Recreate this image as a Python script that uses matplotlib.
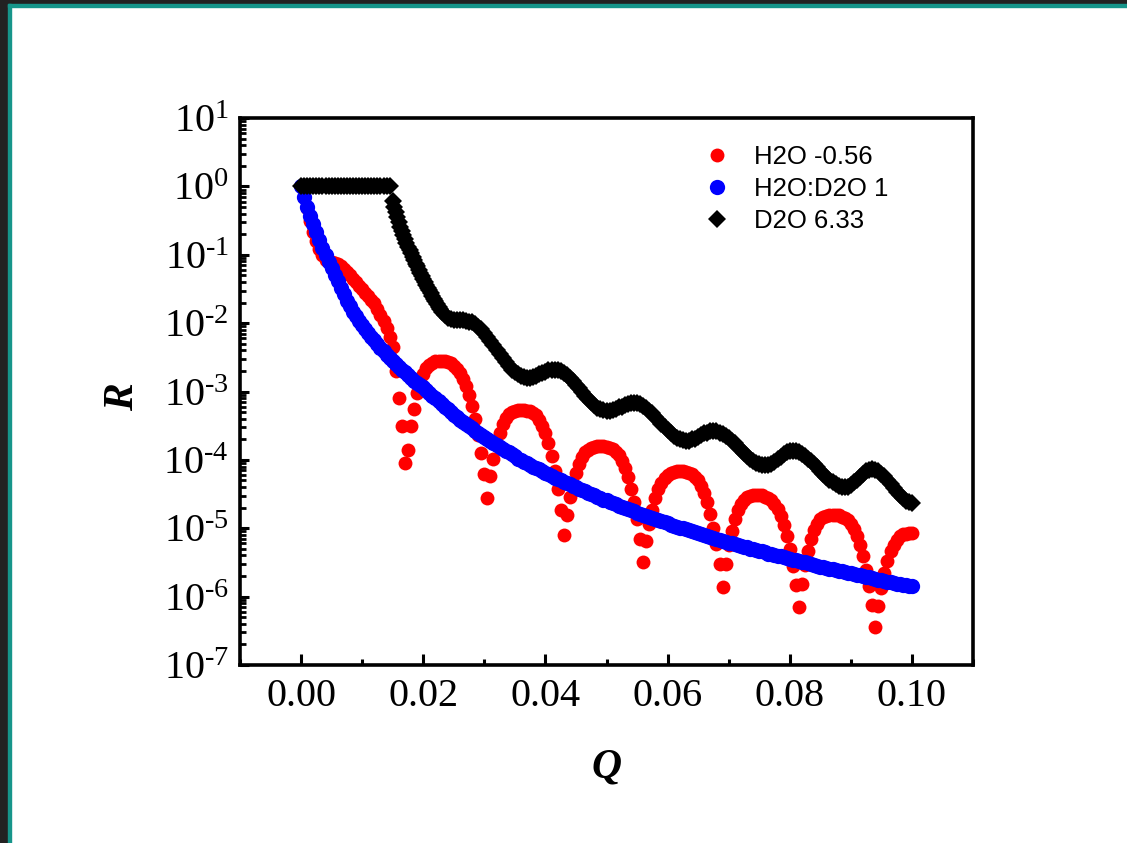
import numpy as np
import matplotlib
matplotlib.use("Agg")
import matplotlib.pyplot as plt
from matplotlib.patches import Rectangle
from matplotlib.ticker import MultipleLocator, LogLocator, NullFormatter, FixedLocator, FixedFormatter

plt.rcParams['font.family'] = ['Liberation Serif', 'DejaVu Serif']
plt.rcParams['mathtext.fontset'] = 'custom'
plt.rcParams['mathtext.rm'] = 'Liberation Serif'
plt.rcParams['mathtext.it'] = 'Liberation Serif:italic'
plt.rcParams['mathtext.bf'] = 'Liberation Serif:bold'

# ---------------- data (log10 R) ----------------
labels = ["H2O -0.56", "H2O:D2O 1", "D2O 6.33"]
colors = ["#ff0000", "#0000ff", "#000000"]

q_grid = np.linspace(0.0, 0.1, 201)     # Q grid of the red and blue series
# black series: same grid, but sampled twice as finely on its steep drop
q_d2o = np.concatenate([np.linspace(0.0, 0.0145, 30),
                        np.linspace(0.015, 0.023, 33),
                        np.linspace(0.0235, 0.1, 154)])

log_r_h2o = [
    0.00, -0.15, -0.32, -0.50, -0.66, -0.80, -0.92, -1.01, -1.07, -1.10,
    -1.11, -1.12, -1.14, -1.17, -1.21, -1.25, -1.30, -1.35, -1.40, -1.45,
    -1.50, -1.56, -1.61, -1.66, -1.71, -1.79, -1.88, -1.97, -2.07, -2.20,
    -2.35, -2.70, -3.10, -3.50, -4.05, -3.85, -3.50, -3.25, -3.02, -2.86,
    -2.74, -2.66, -2.61, -2.58, -2.56, -2.56, -2.56, -2.56, -2.57, -2.59,
    -2.62, -2.67, -2.73, -2.81, -2.92, -3.05, -3.21, -3.40, -3.63, -3.90,
    -4.21, -4.56, -4.24, -3.98, -3.77, -3.60, -3.48, -3.39, -3.33, -3.30,
    -3.28, -3.27, -3.27, -3.27, -3.28, -3.29, -3.31, -3.35, -3.41, -3.50,
    -3.61, -3.76, -3.94, -4.16, -4.42, -4.74, -5.10, -4.80, -4.55, -4.35,
    -4.19, -4.06, -3.96, -3.89, -3.85, -3.82, -3.81, -3.80, -3.80, -3.80,
    -3.81, -3.82, -3.84, -3.88, -3.93, -4.01, -4.12, -4.25, -4.42, -4.62,
    -4.87, -5.16, -5.50, -5.19, -4.94, -4.73, -4.56, -4.43, -4.34, -4.27,
    -4.22, -4.19, -4.18, -4.17, -4.17, -4.17, -4.18, -4.19, -4.21, -4.25,
    -4.30, -4.38, -4.49, -4.62, -4.79, -4.99, -5.23, -5.52, -5.86, -5.53,
    -5.25, -5.04, -4.87, -4.74, -4.65, -4.58, -4.55, -4.53, -4.52, -4.52,
    -4.52, -4.52, -4.54, -4.56, -4.59, -4.65, -4.72, -4.82, -4.95, -5.11,
    -5.31, -5.55, -5.83, -6.15, -5.82, -5.54, -5.33, -5.16, -5.03, -4.94,
    -4.87, -4.84, -4.82, -4.81, -4.81, -4.81, -4.81, -4.83, -4.85, -4.88,
    -4.94, -5.01, -5.11, -5.25, -5.41, -5.61, -5.84, -6.12, -6.45, -6.13,
    -5.87, -5.65, -5.48, -5.34, -5.24, -5.17, -5.12, -5.09, -5.08, -5.07,
    -5.07,
]

log_r_match = [
    0.00, -0.16, -0.30, -0.43, -0.55, -0.67, -0.79, -0.90, -1.00, -1.10,
    -1.20, -1.30, -1.39, -1.49, -1.58, -1.67, -1.75, -1.83, -1.90, -1.97,
    -2.03, -2.09, -2.15, -2.20, -2.25, -2.31, -2.36, -2.41, -2.46, -2.51,
    -2.55, -2.60, -2.64, -2.68, -2.72, -2.76, -2.80, -2.84, -2.87, -2.91,
    -2.94, -2.98, -3.02, -3.06, -3.10, -3.14, -3.18, -3.22, -3.26, -3.30,
    -3.34, -3.38, -3.41, -3.45, -3.48, -3.51, -3.54, -3.58, -3.61, -3.64,
    -3.67, -3.70, -3.73, -3.76, -3.78, -3.81, -3.84, -3.87, -3.89, -3.92,
    -3.95, -3.98, -4.00, -4.03, -4.05, -4.08, -4.10, -4.12, -4.14, -4.17,
    -4.19, -4.21, -4.23, -4.26, -4.28, -4.30, -4.32, -4.34, -4.36, -4.38,
    -4.40, -4.42, -4.44, -4.46, -4.48, -4.50, -4.52, -4.54, -4.56, -4.58,
    -4.59, -4.61, -4.63, -4.65, -4.67, -4.69, -4.70, -4.72, -4.73, -4.75,
    -4.77, -4.79, -4.80, -4.82, -4.83, -4.85, -4.86, -4.88, -4.89, -4.91,
    -4.93, -4.95, -4.96, -4.98, -4.99, -5.00, -5.01, -5.03, -5.04, -5.06,
    -5.07, -5.09, -5.10, -5.12, -5.13, -5.14, -5.15, -5.17, -5.18, -5.20,
    -5.21, -5.22, -5.23, -5.25, -5.26, -5.27, -5.28, -5.30, -5.31, -5.32,
    -5.33, -5.34, -5.35, -5.37, -5.38, -5.39, -5.40, -5.41, -5.42, -5.44,
    -5.45, -5.46, -5.47, -5.48, -5.49, -5.50, -5.51, -5.53, -5.54, -5.55,
    -5.56, -5.57, -5.58, -5.59, -5.60, -5.61, -5.62, -5.63, -5.64, -5.65,
    -5.66, -5.67, -5.68, -5.69, -5.70, -5.71, -5.72, -5.73, -5.74, -5.75,
    -5.76, -5.77, -5.78, -5.79, -5.80, -5.81, -5.82, -5.83, -5.83, -5.84,
    -5.85,
]

log_r_d2o = [
    # Q = 0 ... 0.0145 (total reflection plateau)
    0.00, 0.00, 0.00, 0.00, 0.00, 0.00, 0.00, 0.00, 0.00, 0.00,
    0.00, 0.00, 0.00, 0.00, 0.00, 0.00, 0.00, 0.00, 0.00, 0.00,
    0.00, 0.00, 0.00, 0.00, 0.00, 0.00, 0.00, 0.00, 0.00, 0.00,
    # Q = 0.015 ... 0.023 (steep drop, finer sampling)
    -0.22, -0.30, -0.38, -0.45, -0.52, -0.59, -0.65, -0.71, -0.77, -0.83,
    -0.88, -0.93, -0.98, -1.03, -1.08, -1.13, -1.17, -1.22, -1.26, -1.31,
    -1.35, -1.40, -1.44, -1.48, -1.52, -1.56, -1.60, -1.64, -1.68, -1.72,
    -1.76, -1.80, -1.83,
    # Q = 0.0235 ... 0.1
    -1.88, -1.92, -1.94,
    -1.95, -1.95, -1.95, -1.96, -1.97, -1.98, -1.99, -2.02, -2.05, -2.09,
    -2.14, -2.20, -2.26, -2.32, -2.39, -2.45, -2.51, -2.57, -2.63, -2.68,
    -2.72, -2.75, -2.78, -2.79, -2.80, -2.80, -2.79, -2.77, -2.75, -2.73,
    -2.71, -2.69, -2.68, -2.68, -2.69, -2.70, -2.73, -2.76, -2.80, -2.85,
    -2.90, -2.95, -3.01, -3.06, -3.11, -3.16, -3.20, -3.24, -3.26, -3.27,
    -3.28, -3.28, -3.27, -3.25, -3.23, -3.22, -3.20, -3.18, -3.17, -3.17,
    -3.17, -3.19, -3.21, -3.24, -3.28, -3.32, -3.37, -3.42, -3.47, -3.52,
    -3.57, -3.61, -3.65, -3.68, -3.70, -3.71, -3.72, -3.72, -3.70, -3.69,
    -3.66, -3.64, -3.61, -3.60, -3.58, -3.58, -3.58, -3.60, -3.62, -3.65,
    -3.68, -3.72, -3.76, -3.81, -3.85, -3.90, -3.94, -3.98, -4.01, -4.04,
    -4.06, -4.08, -4.08, -4.07, -4.06, -4.03, -3.99, -3.96, -3.92, -3.89,
    -3.87, -3.87, -3.87, -3.89, -3.91, -3.94, -3.98, -4.02, -4.06, -4.11,
    -4.16, -4.21, -4.25, -4.29, -4.33, -4.36, -4.38, -4.40, -4.40, -4.39,
    -4.37, -4.33, -4.29, -4.25, -4.20, -4.17, -4.15, -4.14, -4.15, -4.17,
    -4.20, -4.24, -4.29, -4.35, -4.41, -4.47, -4.52, -4.56, -4.60, -4.62,
    -4.63,
]

x_ticks = [0.00, 0.02, 0.04, 0.06, 0.08, 0.10]
x_tick_labels = ["0.00", "0.02", "0.04", "0.06", "0.08", "0.10"]
y_exponents = [-7, -6, -5, -4, -3, -2, -1, 0, 1]

# ---------------- figure ----------------
W, H = 1127, 843
fig = plt.figure(figsize=(W / 100, H / 100), dpi=100)
fig.patch.set_facecolor("white")

# frame strips of the screenshot (top and left)
def px_rect(x0, y0, w, h, color):
    fig.patches.append(Rectangle((x0 / W, 1 - (y0 + h) / H), w / W, h / H,
                                 transform=fig.transFigure, color=color,
                                 zorder=0))
px_rect(0, 0, W, 4, "#222222")
px_rect(0, 0, 8, H, "#222222")
px_rect(8, 4, W - 8, 3, "#16958a")
px_rect(8, 4, 3, H - 4, "#16958a")

ax_l, ax_r, ax_t, ax_b = 240, 973, 118, 665
ax = fig.add_axes([ax_l / W, 1 - ax_b / H, (ax_r - ax_l) / W, (ax_b - ax_t) / H])

series = [
    (q_grid, log_r_h2o, "o", 10.0, colors[0], labels[0]),
    (q_grid, log_r_match, "o", 11.0, colors[1], labels[1]),
    (q_d2o, log_r_d2o, "D", 8.8, colors[2], labels[2]),
]
for i, (q, lr, mk, ms, c, lab) in enumerate(series):
    r = 10.0 ** np.asarray(lr)
    ax.plot(q, r, linestyle="none", marker=mk, markersize=ms,
            markerfacecolor=c, markeredgecolor=c, markeredgewidth=0.0,
            label=lab, zorder=2 + i)

ax.set_yscale("log")
ax.set_xlim(-0.01, 0.11)
ax.set_ylim(1e-7, 1e1)
ax.set_xticks(x_ticks)
ax.set_xticklabels(x_tick_labels)
ax.xaxis.set_minor_locator(MultipleLocator(0.01))
ax.yaxis.set_major_locator(FixedLocator([10.0 ** e for e in y_exponents]))
ax.yaxis.set_major_formatter(FixedFormatter(
    ["$10^{" + ("\u2010" + str(-e) if e < 0 else str(e)) + "}$" for e in y_exponents]))
ax.yaxis.set_minor_locator(LogLocator(base=10, subs=np.arange(2, 10), numticks=20))
ax.yaxis.set_minor_formatter(NullFormatter())

for s in ax.spines.values():
    s.set_linewidth(2.6)

ax.tick_params(axis="both", which="both", labelsize=29, direction="in",
               top=False, right=False)
ax.tick_params(axis="x", which="major", length=8, width=2.2, pad=9)
ax.tick_params(axis="x", which="minor", length=4.3, width=2.2)
ax.tick_params(axis="y", which="major", length=6.5, width=2.2, pad=8)
ax.tick_params(axis="y", which="minor", length=4.3, width=2.0)

ax.set_xlabel("Q", fontsize=30, fontweight="bold", fontstyle="italic")
ax.set_ylabel("R", fontsize=30, fontweight="bold", fontstyle="italic")
ax.xaxis.set_label_coords(0.5, (ax_b - 768) / (ax_b - ax_t))
ax.xaxis.label.set_verticalalignment("center")
ax.yaxis.set_label_coords((123 - ax_l) / (ax_r - ax_l), (ax_b - 397) / (ax_b - ax_t))
ax.yaxis.label.set_verticalalignment("center")

leg = ax.legend(loc="upper left",
                bbox_to_anchor=((694 - ax_l) / (ax_r - ax_l), (ax_b - 135) / (ax_b - ax_t)),
                frameon=False, numpoints=1, handlelength=1.0, handletextpad=0.95,
                labelspacing=0.3, borderaxespad=0.0,
                prop={"family": "Liberation Sans", "size": 18.5})

fig.savefig("out.png", dpi=100, facecolor="white")
